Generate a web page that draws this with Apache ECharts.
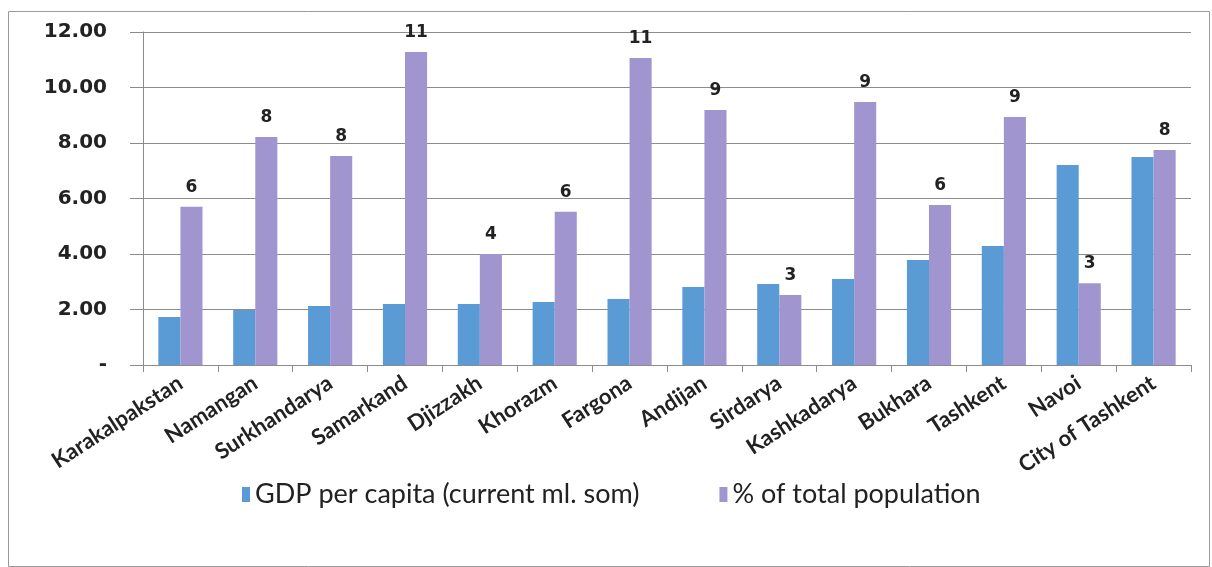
<!DOCTYPE html>
<html>
<head>
<meta charset="utf-8">
<script src="https://cdn.jsdelivr.net/npm/echarts@6/dist/echarts.min.js"></script>
<style>
  html, body { margin: 0; padding: 0; background: #fff; }
  #main { width: 1212px; height: 567px; }
</style>
</head>
<body>
<div id="main"></div>
<script>
// regions
var regions = ['Karakalpakstan', 'Namangan', 'Surkhandarya', 'Samarkand', 'Djizzakh', 'Khorazm',
  'Fargona', 'Andijan', 'Sirdarya', 'Kashkadarya', 'Bukhara', 'Tashkent', 'Navoi', 'City of Tashkent'];
// GDP per capita (current ml. som)
var gdpPerCapita = [1.73, 1.98, 2.13, 2.2, 2.2, 2.27, 2.38, 2.81, 2.92, 3.1, 3.78, 4.29, 7.21, 7.5];
// % of total population
var populationShare = [5.7, 8.22, 7.53, 11.28, 4.0, 5.52, 11.06, 9.19, 2.52, 9.48, 5.77, 8.94, 2.95, 7.75];
// y axis ticks
var yTicks = [0, 2, 4, 6, 8, 10, 12];

var myChart = echarts.init(document.getElementById('main'));

myChart.setOption({
  animation: false,
  graphic: [{
    type: 'rect',
    shape: { x: 8.5, y: 11.5, width: 1201, height: 555 },
    style: { fill: 'none', stroke: '#9a9a9a', lineWidth: 1 },
    silent: true
  }],
  grid: { left: 143, right: 21, top: 32, bottom: 202 },
  legend: {
    top: 476,
    left: 237,
    itemWidth: 8,
    itemHeight: 15,
    itemGap: 80,
    icon: 'rect',
    textStyle: { fontFamily: 'Lato', fontSize: 27, color: '#222' },
    data: ['GDP per capita (current ml. som)', '% of total population']
  },
  xAxis: {
    type: 'category',
    data: regions,
    axisLine: { lineStyle: { color: '#8c8c8c' } },
    axisTick: { show: true, length: 7, lineStyle: { color: '#8c8c8c' } },
    axisLabel: {
      rotate: 33,
      interval: 0,
      margin: 16,
      fontFamily: 'Lato',
      fontWeight: 'bold',
      fontSize: 22,
      color: '#222'
    }
  },
  yAxis: {
    type: 'value',
    min: yTicks[0],
    max: yTicks[yTicks.length - 1],
    interval: 2,
    axisLine: { show: true, lineStyle: { color: '#8c8c8c' } },
    axisTick: { show: true, inside: false, length: 13, lineStyle: { color: '#8c8c8c' } },
    splitLine: { lineStyle: { color: '#8c8c8c' } },
    axisLabel: {
      margin: 36,
      fontFamily: 'DejaVu Sans',
      fontWeight: 'bold',
      fontSize: 20,
      color: '#222',
      formatter: function (v) { return v === 0 ? '-' : v.toFixed(2); }
    }
  },
  series: [{
    name: 'GDP per capita (current ml. som)',
    type: 'bar',
    data: gdpPerCapita,
    barGap: '0%',
    barCategoryGap: '41%',
    itemStyle: { color: '#5B9BD5' }
  }, {
    name: '% of total population',
    type: 'bar',
    data: populationShare,
    barGap: '0%',
    barCategoryGap: '41%',
    itemStyle: { color: '#A095CF' },
    label: {
      show: true,
      position: 'top',
      distance: 11,
      fontFamily: 'DejaVu Sans',
      fontWeight: 'bold',
      fontSize: 17,
      color: '#222',
      formatter: function (p) { return Math.round(p.value); }
    }
  }]
});
</script>
</body>
</html>
